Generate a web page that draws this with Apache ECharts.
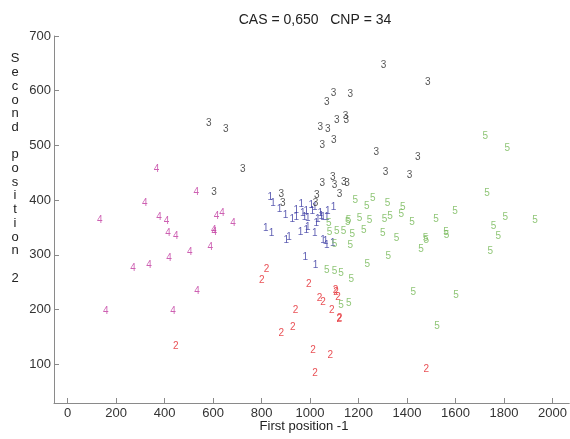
<!DOCTYPE html>
<html><head><meta charset="utf-8">
<script src="https://cdn.jsdelivr.net/npm/echarts@6/dist/echarts.min.js"></script>
<style>html,body{margin:0;padding:0;background:#fff}#c{width:570px;height:439px}</style>
</head><body><div id="c"></div>
<script>
const titleText = 'CAS = 0,650   CNP = 34';
const xName = 'First position -1';
const yName = 'Second position 2';
const xTicks = [0,200,400,600,800,1000,1200,1400,1600,1800,2000];
const yTicks = [100,200,300,400,500,600,700];
const clusterLabels = ['1','2','3','4','5'];
const cluster1 = [[836,406],[847,394],[874,383],[899,373],[927,365],[943,369],[817,348],[841,340],[902,326],[913,332],[943,382],[964,393],[970,376],[984,379],[977,368],[991,367],[1005,391],[1019,387],[1009,379],[1032,365],[1026,357],[1046,371],[1042,376],[1053,369],[1073,379],[1069,368],[1097,387],[961,342],[984,345],[991,351],[1019,340],[1053,326],[1064,324],[1069,318],[1094,321],[980,296],[1023,281]];
const cluster2 = [[446,133],[820,274],[801,254],[940,199],[929,168],[881,156],[995,246],[1105,235],[1107,232],[1115,223],[1039,221],[1053,214],[1090,199],[1122,184],[1121,182],[1012,126],[1083,116],[1021,84],[1479,91]];
const cluster3 = [[1303,647],[1485,615],[1069,578],[1097,595],[1166,593],[1042,534],[1073,529],[1110,546],[1146,554],[1149,546],[1050,501],[1098,510],[1273,487],[1444,478],[1311,450],[1410,446],[1050,431],[1094,441],[1101,427],[1139,433],[1152,431],[1028,408],[1023,395],[1122,411],[881,410],[888,395],[723,456],[604,414],[582,541],[652,530]];
const cluster4 = [[367,456],[531,414],[318,395],[133,363],[377,369],[408,362],[614,371],[637,376],[682,357],[414,340],[446,333],[603,344],[605,342],[504,304],[589,313],[418,294],[336,280],[270,275],[534,234],[158,197],[435,197]];
const cluster5 = [[1730,413],[1186,400],[1234,389],[1259,403],[1320,394],[1382,387],[1376,374],[1330,371],[1307,365],[1204,367],[1245,363],[1156,360],[1159,364],[1421,359],[1520,365],[1598,380],[1805,368],[1928,363],[1757,352],[1776,333],[1743,307],[1138,343],[1174,338],[1222,344],[1300,340],[1357,330],[1476,330],[1479,326],[1561,342],[1563,336],[1458,310],[1166,318],[1323,298],[1236,282],[1128,266],[1170,255],[1426,232],[1602,226],[1128,208],[1160,211],[1524,170],[1077,357],[1080,342],[1110,343],[1101,320],[1069,271],[1101,269],[1723,517],[1813,495]];
const clusters = [cluster1, cluster2, cluster3, cluster4, cluster5];
const colors = ['#35359f','#e3242b','#2b2b2b','#c0389f','#72b752'];

const chart = echarts.init(document.getElementById('c'));
const lineCol = '#8a8a8a';
const labelStyle = {color:'#333',fontFamily:'Liberation Sans, Arial, sans-serif',fontSize:13,formatter:v=>String(v)};
chart.setOption({
  animation:false,
  grid:{left:54,right:0,top:36,bottom:36,containLabel:false},
  xAxis:{type:'value',min:-56,max:2069,
    axisLine:{onZero:false,lineStyle:{color:lineCol,width:1}},splitLine:{show:false},
    axisTick:{inside:true,length:5,lineStyle:{color:lineCol},customValues:xTicks},
    axisLabel:Object.assign({},labelStyle,{customValues:xTicks,margin:4})},
  yAxis:{type:'value',min:29,max:700,
    axisLine:{onZero:false,lineStyle:{color:lineCol,width:1}},splitLine:{show:false},
    axisTick:{inside:true,length:5,lineStyle:{color:lineCol},customValues:yTicks},
    axisLabel:Object.assign({},labelStyle,{customValues:yTicks,margin:3})},
  graphic:[
    {type:'text',style:{text:titleText,x:315,y:20,align:'center',verticalAlign:'middle',fill:'#222',font:'14px "Liberation Sans", Arial, sans-serif'}},
    {type:'text',style:{text:xName,x:304,y:426,align:'center',verticalAlign:'middle',fill:'#222',font:'13px "Liberation Sans", Arial, sans-serif'}},
    {type:'text',style:{text:yName.split('').join('\n'),x:15,y:168.5,align:'center',verticalAlign:'middle',lineHeight:13.7,fill:'#222',font:'13px "Liberation Sans", Arial, sans-serif'}}
  ],
  series:clusters.map((d,i)=>({
    type:'scatter',data:d,symbol:'circle',symbolSize:1,
    itemStyle:{color:'rgba(0,0,0,0)'},
    label:{show:true,position:'inside',formatter:clusterLabels[i],color:colors[i],fontSize:10,fontFamily:'Liberation Sans, Arial, sans-serif'},
    labelLayout:{hideOverlap:false}
  }))
});
</script></body></html>
